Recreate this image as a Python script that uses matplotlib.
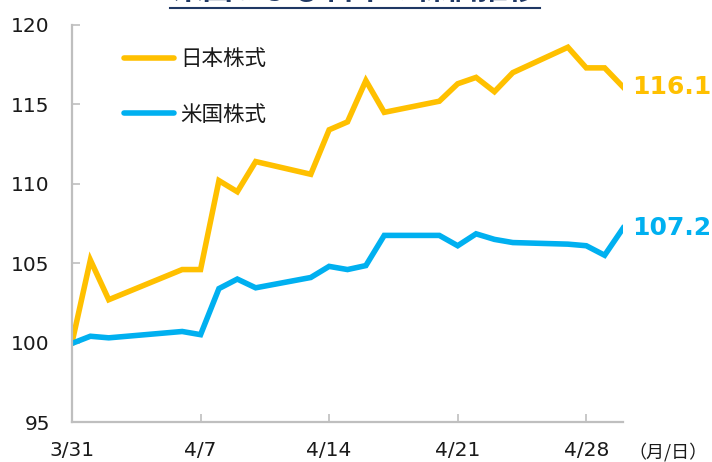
import numpy as np
import matplotlib.pyplot as plt
from matplotlib.lines import Line2D

plt.rcParams['font.family'] = ['DejaVu Sans', 'Noto Sans CJK JP']

# days after 3/31
days = [0, 1, 2, 6, 7, 8, 9, 10, 13, 14, 15, 16, 17, 20, 21, 22, 23, 24, 27, 28, 29, 30]
japan = [100.0, 105.2, 102.7, 104.6, 104.6, 110.2, 109.5, 111.4, 110.6, 113.4, 113.9, 116.5,
         114.5, 115.2, 116.3, 116.7, 115.8, 117.0, 118.6, 117.3, 117.3, 116.1]
us = [99.95, 100.4, 100.3, 100.7, 100.5, 103.4, 104.0, 103.45, 104.1, 104.8, 104.6, 104.85,
      106.75, 106.75, 106.1, 106.85, 106.5, 106.3, 106.2, 106.1, 105.5, 107.2]
tick_days = [0, 7, 14, 21, 28]
tick_labels = ['3/31', '4/7', '4/14', '4/21', '4/28']

c_jp = '#FFC000'
c_us = '#00B0F0'
gray = '#BFBFBF'

fig = plt.figure(figsize=(7.12, 4.62), dpi=100)
ax = fig.add_axes([72/712, 1-422/462, (623-72)/712, (422-25)/462])

ax.plot(days, japan, color=c_jp, lw=4, solid_joinstyle='miter', label='日本株式')
ax.plot(days, us, color=c_us, lw=4, solid_joinstyle='miter', label='米国株式')

ax.set_xlim(0, 30)
ax.set_ylim(95, 120)
ax.set_yticks(np.arange(95, 121, 5))
ax.set_xticks(tick_days)
ax.set_xticklabels(tick_labels)

for s in ['top', 'right']:
    ax.spines[s].set_visible(False)
for s in ['left', 'bottom']:
    ax.spines[s].set_color(gray)
    ax.spines[s].set_linewidth(1.6)
ax.tick_params(axis='both', direction='in', length=6, width=1.2, color=gray,
               labelsize=14.5, labelcolor='#1a1a1a')
ax.tick_params(axis='y', pad=16)
ax.tick_params(axis='x', pad=14)

ax.text(628/712, 1-452/462, '（月/日）', transform=fig.transFigure, fontsize=13,
        family=['Noto Sans CJK JP'], va='center', ha='left', color='#1a1a1a')

ax.text(30.5, japan[-1], f'{japan[-1]:.1f}', color=c_jp, fontsize=18, fontweight='bold',
        va='center', ha='left', clip_on=False)
ax.text(30.5, us[-1], f'{us[-1]:.1f}', color=c_us, fontsize=18, fontweight='bold',
        va='center', ha='left', clip_on=False)

leg = ax.legend(loc='upper left', bbox_to_anchor=(0.06, 0.99), frameon=False,
                handlelength=2.3, handletextpad=0.3, labelspacing=1.55,
                prop={'family': 'Noto Sans CJK JP', 'size': 15.5})
for t in leg.get_texts():
    t.set_color('#1a1a1a')
for h in leg.get_lines():
    h.set_solid_capstyle('round')

# title, mostly cut off at the top edge
fig.text(355/712, 1-6/462, '米国および日本の株価推移', ha='center', va='bottom',
         fontsize=22, fontweight='bold', color='#1F3864', family=['Noto Sans CJK JP'])
fig.add_artist(Line2D([170/712, 540/712], [1-8/462, 1-8/462], color='#1F3864', lw=1.5,
                      transform=fig.transFigure))

fig.savefig('out.png', dpi=100)
